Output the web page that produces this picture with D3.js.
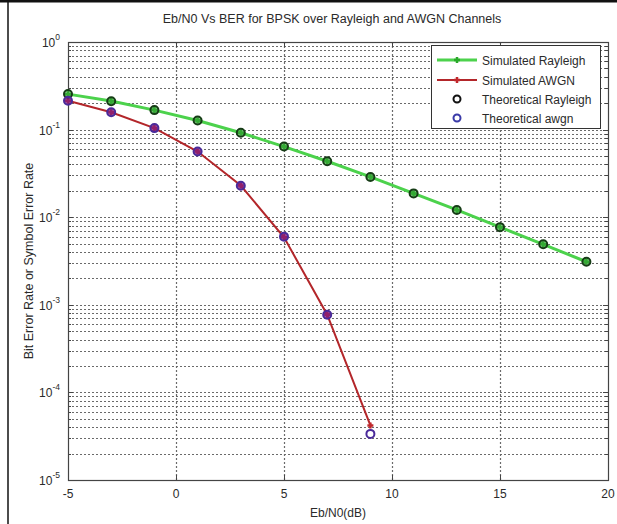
<!DOCTYPE html>
<html>
<head>
<meta charset="utf-8">
<script src="https://cdn.jsdelivr.net/npm/d3@7"></script>
<style>
  body { margin: 0; background: #fff; }
  text { font-family: "Liberation Sans", Arial, sans-serif; fill: #2a2a2a; }
</style>
</head>
<body>
<script>
// data
var snrRayleigh    = [-5, -3, -1, 1, 3, 5, 7, 9, 11, 13, 15, 17, 19];
var rayleighSim    = [0.254, 0.212, 0.167, 0.127, 0.092, 0.064, 0.0435, 0.0288, 0.0187, 0.0121, 0.0077, 0.0049, 0.0031];
var rayleighTheory = [0.255, 0.211, 0.167, 0.127, 0.092, 0.064, 0.0435, 0.0288, 0.0187, 0.0121, 0.0077, 0.0049, 0.0031];
var snrAwgn        = [-5, -3, -1, 1, 3, 5, 7, 9];
var awgnSim        = [0.213, 0.158, 0.104, 0.0562, 0.0230, 0.0059, 0.00077, 0.000042];
var awgnTheory     = [0.213, 0.158, 0.104, 0.0563, 0.0229, 0.0060, 0.00077, 0.0000336];
var xTicks         = [-5, 0, 5, 10, 15, 20];
var yExponents     = [0, -1, -2, -3, -4, -5];
var legendLabels   = ['Simulated Rayleigh', 'Simulated AWGN', 'Theoretical Rayleigh', 'Theoretical awgn'];

// init
var W = 617, H = 524,
    margin = { top: 42, right: 9, bottom: 44, left: 68 },
    x0 = margin.left, x1 = W - margin.right,
    y0 = margin.top,  y1 = H - margin.bottom;

var xScale = d3.scaleLinear().domain([-5, 20]).range([x0, x1]);
var yScale = d3.scaleLog().domain([1e-5, 1]).range([y1, y0]);

var svg = d3.select('body').append('svg')
    .attr('width', W)
    .attr('height', H);

// outer frame (top and left edges only)
svg.append('line').attr('x1', 0).attr('x2', W).attr('y1', 1).attr('y2', 1)
    .attr('stroke', '#111').attr('stroke-width', 3);
svg.append('line').attr('x1', 8).attr('x2', 8).attr('y1', 0).attr('y2', H)
    .attr('stroke', '#111').attr('stroke-width', 1.5);

// grid values: every 1..9 * 10^n
var gridY = [];
for (var e = -5; e < 0; e++) {
    for (var k = 1; k < 10; k++) gridY.push(k * Math.pow(10, e));
}

var grid = svg.append('g').attr('class', 'grid')
    .attr('stroke', '#6a6a6a')
    .attr('stroke-width', 1.2)
    .attr('stroke-dasharray', '2,2');

grid.selectAll('.hgrid').data(gridY.filter(function(d) { return d > 1e-5; }))
    .enter().append('line')
    .attr('x1', x0).attr('x2', x1)
    .attr('y1', function(d) { return Math.round(yScale(d)) + 0.5; })
    .attr('y2', function(d) { return Math.round(yScale(d)) + 0.5; });

grid.selectAll('.vgrid').data(xTicks.slice(1, -1))
    .enter().append('line')
    .attr('x1', function(d) { return Math.round(xScale(d)) + 0.5; })
    .attr('x2', function(d) { return Math.round(xScale(d)) + 0.5; })
    .attr('y1', y0).attr('y2', y1);

// axes box
svg.append('rect')
    .attr('x', x0 + 0.5).attr('y', y0 + 0.5)
    .attr('width', x1 - x0).attr('height', y1 - y0)
    .attr('fill', 'none').attr('stroke', '#444').attr('stroke-width', 1.2);

// ticks
var ticks = svg.append('g').attr('stroke', '#444').attr('stroke-width', 1);
xTicks.forEach(function(t) {
    var px = Math.round(xScale(t)) + 0.5;
    ticks.append('line').attr('x1', px).attr('x2', px).attr('y1', y1).attr('y2', y1 - 5);
    ticks.append('line').attr('x1', px).attr('x2', px).attr('y1', y0).attr('y2', y0 + 5);
});
gridY.concat([1]).forEach(function(v) {
    var py = Math.round(yScale(v)) + 0.5;
    var len = Math.abs(Math.log10(v) - Math.round(Math.log10(v))) < 1e-9 ? 5 : 3;
    ticks.append('line').attr('x1', x0).attr('x2', x0 + len).attr('y1', py).attr('y2', py);
    ticks.append('line').attr('x1', x1).attr('x2', x1 - len).attr('y1', py).attr('y2', py);
});

// x tick labels
svg.selectAll('.xlab').data(xTicks).enter().append('text')
    .attr('x', function(d) { return xScale(d); })
    .attr('y', y1 + 18)
    .attr('text-anchor', 'middle')
    .attr('font-size', 12)
    .text(function(d) { return d; });

// y tick labels 10^n
var ylab = svg.selectAll('.ylab').data(yExponents).enter().append('text')
    .attr('x', x0 - 8)
    .attr('y', function(d) { return yScale(Math.pow(10, d)) + 5; })
    .attr('text-anchor', 'end')
    .attr('font-size', 12);
ylab.append('tspan').text('10');
ylab.append('tspan')
    .attr('dy', -7)
    .attr('font-size', 8.5)
    .text(function(d) { return d; });

// titles
svg.append('text')
    .attr('x', (x0 + x1) / 2 - 6).attr('y', 23)
    .attr('text-anchor', 'middle').attr('font-size', 12.5)
    .text('Eb/N0 Vs BER for BPSK over Rayleigh and AWGN Channels');
svg.append('text')
    .attr('x', (x0 + x1) / 2).attr('y', H - 7)
    .attr('text-anchor', 'middle').attr('font-size', 12)
    .text('Eb/N0(dB)');
svg.append('text')
    .attr('transform', 'translate(33,' + ((y0 + y1) / 2) + ') rotate(-90)')
    .attr('text-anchor', 'middle').attr('font-size', 12.5)
    .text('Bit Error Rate or Symbol Error Rate');

// series
var line = d3.line()
    .x(function(d) { return xScale(d[0]); })
    .y(function(d) { return yScale(d[1]); });

var rSim = d3.zip(snrRayleigh, rayleighSim),
    aSim = d3.zip(snrAwgn, awgnSim),
    rTh  = d3.zip(snrRayleigh, rayleighTheory),
    aTh  = d3.zip(snrAwgn, awgnTheory);

var green = '#4cd24c', red = '#b3262a';

svg.append('path').datum(rSim).attr('d', line)
    .attr('fill', 'none').attr('stroke', green).attr('stroke-width', 3);
svg.append('path').datum(aSim).attr('d', line)
    .attr('fill', 'none').attr('stroke', red).attr('stroke-width', 2);

function plus(g, cx, cy, color) {
    g.append('path')
        .attr('d', 'M' + (cx - 3) + ',' + cy + 'H' + (cx + 3) + 'M' + cx + ',' + (cy - 3) + 'V' + (cy + 3))
        .attr('stroke', color).attr('stroke-width', 2.5);
}

var marks = svg.append('g');
rSim.forEach(function(d) { plus(marks, xScale(d[0]), yScale(d[1]), '#2aa82a'); });
aSim.forEach(function(d) { plus(marks, xScale(d[0]), yScale(d[1]), '#c0282c'); });

svg.selectAll('.rth').data(rTh).enter().append('circle')
    .attr('cx', function(d) { return xScale(d[0]); })
    .attr('cy', function(d) { return yScale(d[1]); })
    .attr('r', 4)
    .attr('fill', 'rgba(60,170,60,0.6)')
    .attr('stroke', '#163c16').attr('stroke-width', 2);
svg.selectAll('.ath').data(aTh).enter().append('circle')
    .attr('cx', function(d) { return xScale(d[0]); })
    .attr('cy', function(d) { return yScale(d[1]); })
    .attr('r', 4)
    .attr('fill', function(d, i) { return i < aTh.length - 1 ? 'rgba(130,30,130,0.75)' : 'none'; })
    .attr('stroke', '#4a2a9a').attr('stroke-width', 2);

// legend
var lg = svg.append('g');
lg.append('rect')
    .attr('x', 431.5).attr('y', 45.5).attr('width', 169).attr('height', 83)
    .attr('fill', '#fff').attr('stroke', '#333').attr('stroke-width', 1);
var rowY = [60, 80, 99, 118];
legendLabels.forEach(function(label, i) {
    var cy = rowY[i];
    if (i < 2) {
        var c = i === 0 ? green : red;
        lg.append('line').attr('x1', 437).attr('x2', 477).attr('y1', cy).attr('y2', cy)
            .attr('stroke', c).attr('stroke-width', i === 0 ? 3 : 2);
        plus(lg, 457, cy, i === 0 ? '#2aa82a' : '#c0282c');
    } else {
        lg.append('circle').attr('cx', 457).attr('cy', cy).attr('r', 3.5)
            .attr('fill', 'none')
            .attr('stroke', i === 2 ? '#111' : '#3a3aa8').attr('stroke-width', 2);
    }
    lg.append('text').attr('x', 482).attr('y', cy + 4.5)
        .attr('font-size', 12).text(label);
});
</script>
</body>
</html>
